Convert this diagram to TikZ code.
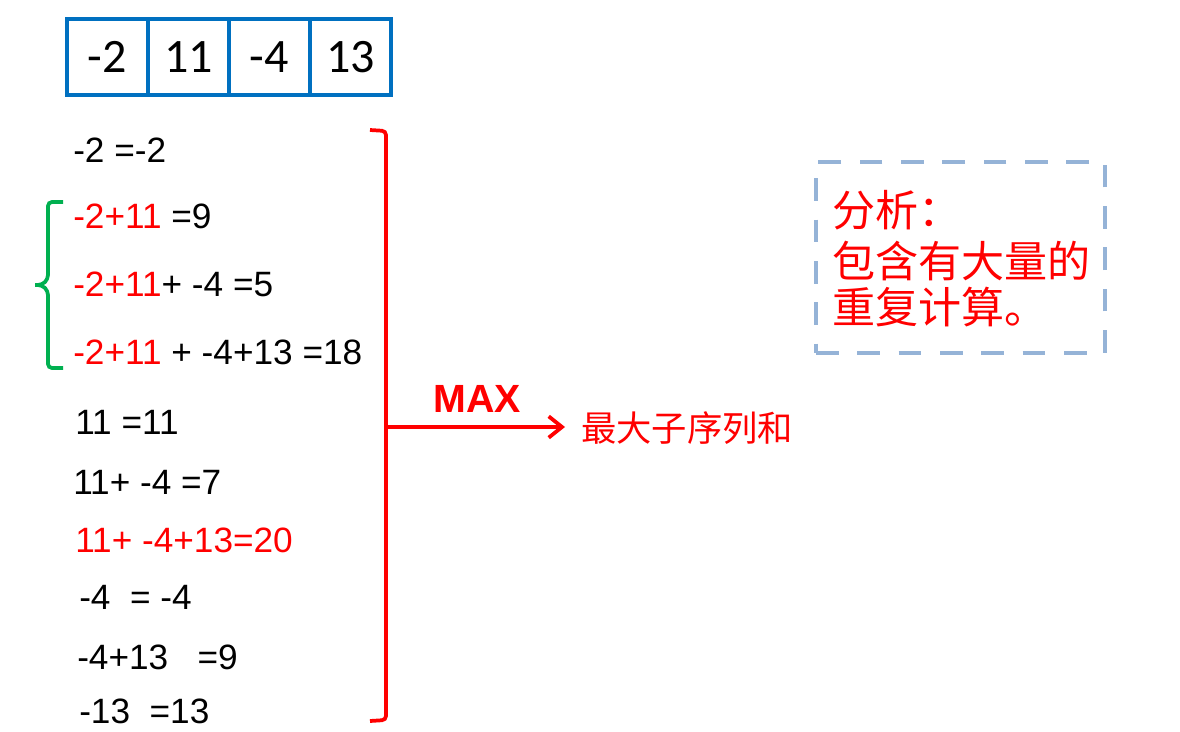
\documentclass[tikz,border=0pt]{standalone}
\usepackage{fontspec}
\setmainfont{Liberation Sans}
\newfontfamily\numfont{Carlito}
\newfontfamily\cjk{Noto Sans CJK SC}
\usetikzlibrary{arrows.meta}
\definecolor{cellblue}{HTML}{0070C0}
\definecolor{dashblue}{HTML}{95B3D7}
\definecolor{bracegreen}{HTML}{00B050}
\definecolor{mred}{HTML}{FF0000}
\begin{document}
\begin{tikzpicture}[x=0.75pt,y=-0.75pt,
  cell/.style={draw=cellblue,line width=3pt,minimum width=60.75pt,minimum height=57pt,inner sep=0pt,font=\numfont\fontsize{36}{40}\selectfont},
  sumline/.style={anchor=base west,inner sep=0pt,font=\fontsize{26.4}{30}\selectfont},
  hl/.style={text=mred},
  bracered/.style={draw=mred,line width=2.8pt,rounded corners=3pt},
  bracegr/.style={draw=bracegreen,line width=2.8pt,rounded corners=3pt},
  dashbox/.style={draw=dashblue,line width=3pt,dash pattern=on 17pt off 14pt,minimum width=216.75pt,minimum height=143.25pt,inner sep=0pt},
  cjktext/.style={anchor=base west,inner sep=0pt,text=mred,font=\cjk\fontsize{32.3}{36}\selectfont}
]
\useasboundingbox[fill=white] (0,0) rectangle (1180,731);

% array
\node[cell] (c1) at (107.5,57) {-2};
\node[cell] (c2) at (188.5,57) {11};
\node[cell] (c3) at (269.5,57) {-4};
\node[cell] (c4) at (350.5,57) {13};

% sums
\node[sumline] (s1) at (73,162) {-2 =-2};
\node[sumline] (s2) at (73,228) {\textcolor{mred}{-2+11} =9};
\node[sumline] (s3) at (73,296) {\textcolor{mred}{-2+11}+ -4 =5};
\node[sumline] (s4) at (73,364) {\textcolor{mred}{-2+11} + -4+13 =18};
\node[sumline] (s5) at (75,434) {11 =11};
\node[sumline] (s6) at (73,494) {11+ -4 =7};
\node[sumline,hl] (s7) at (75,552) {11+ -4+13=20};
\node[sumline] (s8) at (79,609) {-4\ \ = -4};
\node[sumline] (s9) at (77,669) {-4+13\ \ \ =9};
\node[sumline] (s10) at (79,723) {-13\ \ =13};

% green brace
\draw[bracegr] (63,202) -- (48,202) -- (48,279) -- (42,285) -- (35,285);
\draw[bracegr] (35,285) -- (42,285) -- (48,291) -- (48,368) -- (63,368);

% red bracket
\coordinate (tip) at (386,427);
\draw[bracered] (370,130) -- (386,131) -- (386,720) -- (370,721);

% MAX arrow
\node[inner sep=0pt,text=mred,font=\bfseries\fontsize{29.5}{32}\selectfont] (max) at (477,399) {MAX};
\node[anchor=west,inner sep=0pt,text=mred,font=\cjk\fontsize{26.5}{30}\selectfont] (res) at (581,428) {最大子序列和};
\draw[draw=mred,line width=2.8pt,-{Straight Barb[length=10pt,width=16pt,line width=2.8pt]},shorten >=12pt] (tip) -- (tip -| res.west);

% analysis box
\node[dashbox] (box) at (960.5,257.5) {};
\node[cjktext] (a1) at (832,226) {分析：};
\node[cjktext] (a2) at (832,277) {包含有大量的};
\node[cjktext] (a3) at (832,323) {重复计算。};
\end{tikzpicture}
\end{document}
